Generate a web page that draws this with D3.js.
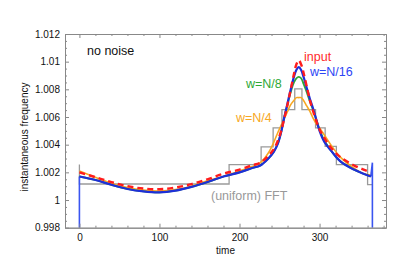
<!DOCTYPE html>
<html>
<head>
<meta charset="utf-8">
<script src="https://cdn.jsdelivr.net/npm/d3@7"></script>
<style>
  body { margin: 0; background: #fff; }
  svg text { font-family: "Liberation Sans", Arial, Helvetica, sans-serif; }
</style>
</head>
<body>
<div id="chart"></div>
<script>
// sample times (shared by the smooth curves)
const times = [0, 20, 40, 60, 80, 100, 120, 140, 160, 180, 200, 215, 226, 236, 243, 248, 252, 256,
  260, 264, 268, 271, 274, 277, 280, 284, 288, 292, 296, 300, 306, 314, 326, 343, 355, 364];

// input (red dashed)
const inputF = [1.0020, 1.00165, 1.0013, 1.0010, 1.00083, 1.00078, 1.0009, 1.00115, 1.0015, 1.0019, 1.0022, 1.0025,
  1.0027, 1.0032, 1.0037, 1.0043, 1.0050, 1.0059, 1.0069, 1.0080, 1.0091, 1.0098, 1.0101, 1.0098, 1.0092,
  1.0082, 1.0072, 1.0064, 1.0057, 1.0051, 1.0045, 1.0038, 1.0031, 1.0025, 1.0022, 1.0020];

// w=N/16 (blue)
const n16F = [1.0017, 1.00145, 1.0011, 1.0008, 1.00062, 1.00055, 1.00068, 1.00095, 1.0013, 1.0017, 1.0020, 1.0023,
  1.0025, 1.0030, 1.0035, 1.0041, 1.0049, 1.0060, 1.0070, 1.0080, 1.0089, 1.0094, 1.0096, 1.0094, 1.0089,
  1.0081, 1.0073, 1.0066, 1.0058, 1.0050, 1.0042, 1.0036, 1.0028, 1.0022, 1.0019, 1.0017];

// w=N/8 (green)
const n8F = [1.0017, 1.00145, 1.0011, 1.0008, 1.00062, 1.00055, 1.00068, 1.00095, 1.0013, 1.0017, 1.0020, 1.0023,
  1.0025, 1.0030, 1.0035, 1.0041, 1.0049, 1.0060, 1.0069, 1.0078, 1.0085, 1.0088, 1.0089, 1.0088, 1.0084,
  1.0078, 1.0071, 1.0065, 1.0058, 1.0051, 1.0043, 1.0036, 1.0028, 1.0022, 1.0019, 1.0017];

// w=N/4 (orange)
const n4F = [1.0021, 1.00165, 1.0012, 1.0009, 1.00072, 1.00065, 1.00075, 1.0010, 1.0014, 1.0017, 1.0021, 1.0024,
  1.0027, 1.0034, 1.0042, 1.0049, 1.0054, 1.0059, 1.0064, 1.0069, 1.0072, 1.0074, 1.0074, 1.0074, 1.0072,
  1.0068, 1.0064, 1.0059, 1.0055, 1.0052, 1.0047, 1.0040, 1.0031, 1.0023, 1.0019, 1.0018];

// edge artefacts of the w=N/16 estimate
const spikeLeftT = [0, 0];
const spikeLeftF = [0.9970, 1.0017];
const spikeRightT = [364, 366, 366];
const spikeRightF = [1.0017, 1.0027, 0.9970];

// (uniform) FFT: bin edges and bin values
const fftEdges = [0, 0, 187, 227, 242, 253, 269, 278, 295, 307, 321, 360, 366];
const fftVals = [1.00256, 1.00116, 1.00256, 1.00384, 1.00522, 1.00654, 1.00804, 1.00654, 1.00522, 1.00388, 1.00256, 1.00111];

const xTicks = [0, 100, 200, 300];
const yTicks = [0.998, 1, 1.002, 1.004, 1.006, 1.008, 1.01, 1.012];

const W = 407, H = 271;
const L = 65, R = 386, T = 34, B = 227.7;

const svg = d3.select('#chart').append('svg')
  .attr('width', W).attr('height', H);

const x = d3.scaleLinear().domain([-18, 383]).range([L, R]);
const y = d3.scaleLinear().domain([0.998, 1.012]).range([B, T]);

svg.append('clipPath').attr('id', 'clip')
  .append('rect').attr('x', L).attr('y', T).attr('width', R - L).attr('height', B - T);

const plot = svg.append('g').attr('clip-path', 'url(#clip)');

// step function of the FFT estimate
const steps = [];
fftVals.forEach((v, i) => {
  steps.push([fftEdges[i], v]);
  steps.push([fftEdges[i + 1], v]);
});
plot.append('path')
  .attr('d', d3.line().x(d => x(d[0])).y(d => y(d[1]))(steps))
  .attr('fill', 'none').attr('stroke', '#9a9a9a').attr('stroke-width', 1.3);

const smooth = d3.line().x(d => x(d[0])).y(d => y(d[1])).curve(d3.curveCatmullRom.alpha(0.5));
const straight = d3.line().x(d => x(d[0])).y(d => y(d[1]));
const pts = vals => times.map((t, i) => [t, vals[i]]);

plot.append('path').attr('d', smooth(pts(n4F)))
  .attr('fill', 'none').attr('stroke', '#f7a823').attr('stroke-width', 1.6);
plot.append('path').attr('d', smooth(pts(n8F)))
  .attr('fill', 'none').attr('stroke', '#2ea836').attr('stroke-width', 1.8);

[[spikeLeftT, spikeLeftF], [spikeRightT, spikeRightF]].forEach(([ts, fs]) => {
  plot.append('path').attr('d', straight(ts.map((t, i) => [t, fs[i]])))
    .attr('fill', 'none').attr('stroke', '#3a55f0').attr('stroke-width', 1.6);
});
plot.append('path').attr('d', smooth(pts(n16F)))
  .attr('fill', 'none').attr('stroke', '#1e2fd8').attr('stroke-width', 2.2);

plot.append('path').attr('d', smooth(pts(inputF)))
  .attr('fill', 'none').attr('stroke', '#ff1c1c').attr('stroke-width', 2.4)
  .attr('stroke-dasharray', '6,4');

// axes: ticks point inward on all four sides
const xMinor = d3.range(-0, 381, 20).filter(v => xTicks.indexOf(v) < 0);
const yMinor = d3.range(0.998, 1.01201, 0.0005).filter(v => !yTicks.some(t => Math.abs(t - v) < 1e-7));

function styleAxis(g) {
  g.selectAll('.domain').attr('stroke', '#888');
  g.selectAll('line').attr('stroke', '#888');
  g.selectAll('text').attr('fill', '#111').style('font-size', '10px');
}

svg.append('g').attr('transform', `translate(0,${B})`)
  .call(d3.axisBottom(x).tickValues(xTicks).tickSize(-4).tickSizeOuter(0).tickPadding(6).tickFormat(d3.format('d')))
  .call(styleAxis);
svg.append('g').attr('transform', `translate(0,${B})`)
  .call(d3.axisBottom(x).tickValues(xMinor).tickSize(-2).tickSizeOuter(0).tickFormat(''))
  .call(styleAxis);
svg.append('g').attr('transform', `translate(0,${T})`)
  .call(d3.axisTop(x).tickValues(xTicks).tickSize(-4).tickSizeOuter(0).tickFormat(''))
  .call(styleAxis);
svg.append('g').attr('transform', `translate(0,${T})`)
  .call(d3.axisTop(x).tickValues(xMinor).tickSize(-2).tickSizeOuter(0).tickFormat(''))
  .call(styleAxis);

svg.append('g').attr('transform', `translate(${L},0)`)
  .call(d3.axisLeft(y).tickValues(yTicks).tickSize(-4).tickSizeOuter(0).tickPadding(5).tickFormat(d => d3.format('')(+d.toFixed(3))))
  .call(styleAxis);
svg.append('g').attr('transform', `translate(${L},0)`)
  .call(d3.axisLeft(y).tickValues(yMinor).tickSize(-2).tickSizeOuter(0).tickFormat(''))
  .call(styleAxis);
svg.append('g').attr('transform', `translate(${R},0)`)
  .call(d3.axisRight(y).tickValues(yTicks).tickSize(-4).tickSizeOuter(0).tickFormat(''))
  .call(styleAxis);
svg.append('g').attr('transform', `translate(${R},0)`)
  .call(d3.axisRight(y).tickValues(yMinor).tickSize(-2).tickSizeOuter(0).tickFormat(''))
  .call(styleAxis);

// axis titles
svg.append('text').attr('x', (L + R) / 2).attr('y', 254)
  .attr('text-anchor', 'middle').style('font-size', '10px').attr('fill', '#111').text('time');
svg.append('text').attr('transform', `translate(28,137) rotate(-90)`)
  .attr('text-anchor', 'middle').style('font-size', '10px').attr('fill', '#111').text('instantaneous frequency');

// annotations
const notes = [
  { text: 'no noise', x: 87, y: 55, color: '#111' },
  { text: 'input', x: 304, y: 61, color: '#ff2a2a' },
  { text: 'w=N/16', x: 310, y: 76, color: '#2c45f5' },
  { text: 'w=N/8', x: 246, y: 88, color: '#2ea836' },
  { text: 'w=N/4', x: 236, y: 122, color: '#f7a823' },
  { text: '(uniform) FFT', x: 211, y: 200, color: '#999' }
];
svg.selectAll('.note').data(notes).join('text').attr('class', 'note')
  .attr('x', d => d.x).attr('y', d => d.y)
  .attr('fill', d => d.color).style('font-size', '12.5px')
  .text(d => d.text);
</script>
</body>
</html>
